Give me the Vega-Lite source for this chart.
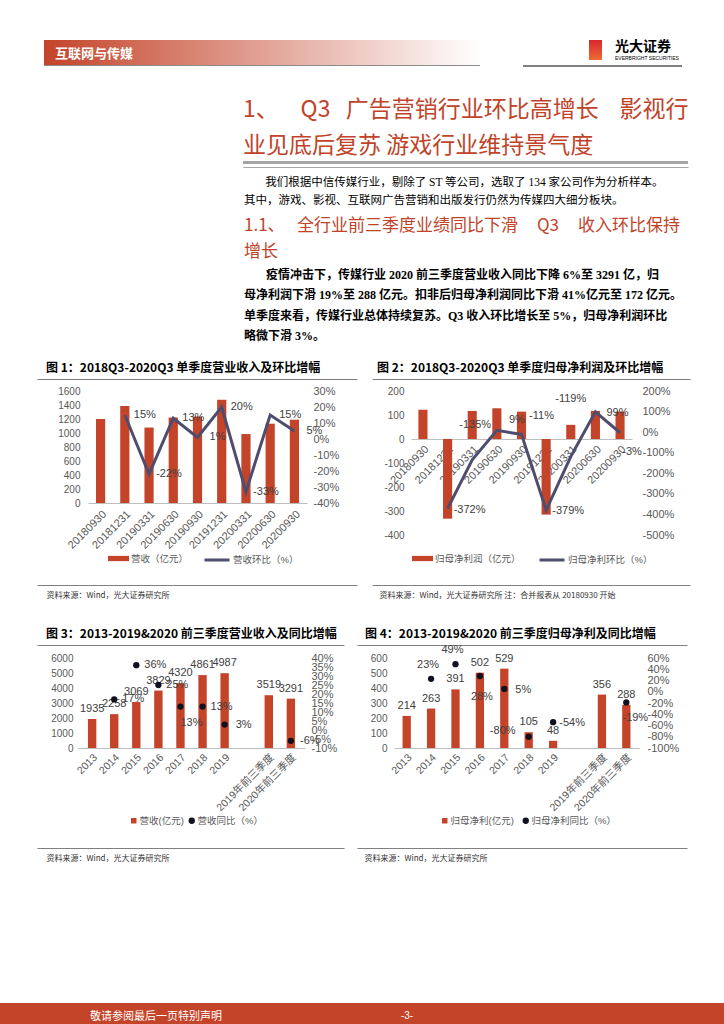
{
  "$schema": "https://vega.github.io/schema/vega-lite/v6.json",
  "background": "white",
  "padding": {"left": 0, "top": 40, "right": 0, "bottom": 0},
  "config": {
    "view": {"stroke": null},
    "font": "Liberation Sans, Noto Sans CJK SC",
    "locale": {"number": {"decimal": ".", "thousands": ",", "grouping": [3], "currency": ["", ""], "minus": "-"}},
    "axis": {"ticks": false, "grid": false, "labelFontSize": 11, "labelColor": "#595959", "labelOverlap": false, "domainColor": "#BFBFBF"},
    "legend": {"labelFontSize": 9.5, "labelColor": "#595959", "padding": 0},
    "text": {"fontSize": 11, "color": "#404040"},
    "title": {"font": "Noto Sans CJK SC", "color": "#000000"},
    "concat": {"spacing": 0}
  },
  "spacing": 0,
  "resolve": {"scale": {"fill": "independent", "stroke": "independent", "color": "independent"}, "legend": {"fill": "independent", "stroke": "independent", "color": "independent"}},
  "vconcat": [
    {
      "spacing": 0, "bounds": "flush",
      "hconcat": [
        {"width": 44, "height": 25, "data": {"values": []}, "mark": "point"},
        {"width": 436, "height": 25, "data": {"values": [{}]},
         "mark": {"type": "rect", "fill": {"gradient": "linear", "x1": 0, "y1": 0, "x2": 1, "y2": 0, "stops": [{"offset": 0, "color": "#C4442A"}, {"offset": 1, "color": "#FFFFFF"}]}},
         "encoding": {},
         "title": {"text": "互联网与传媒", "orient": "bottom", "anchor": "start", "frame": "group", "dx": 11, "offset": -17.5, "fontSize": 13, "fontWeight": "bold", "color": "#FFFFFF"}},
        {"width": 109, "height": 25, "data": {"values": []}, "mark": "point"},
        {"width": 13, "height": 20, "data": {"values": [{}]},
         "mark": {"type": "rect", "fill": {"gradient": "linear", "x1": 0, "y1": 0, "x2": 0, "y2": 1, "stops": [{"offset": 0, "color": "#D8282C"}, {"offset": 1, "color": "#EE6A36"}]}},
         "encoding": {},
         "title": {"text": "光大证券", "subtitle": "EVERBRIGHT SECURITIES", "orient": "bottom", "anchor": "start", "frame": "group", "dx": 26, "offset": -20, "fontSize": 14, "fontWeight": "bold", "color": "#000000", "subtitleFontSize": 5, "subtitlePadding": 2, "subtitleColor": "#000000", "subtitleFont": "Liberation Sans"}}
      ]
    },
    {
      "spacing": 0, "bounds": "flush",
      "hconcat": [
        {"width": 44, "height": 96, "data": {"values": []}, "mark": "point"},
        {"width": 436, "height": 1, "data": {"values": [{}]}, "mark": {"type": "rect", "fill": "#8C8C8C"}, "encoding": {},
         "title": {"text": ["1、\u3000\u00a0\u00a0Q3\u00a0\u00a0\u00a0广告营销行业环比高增长\u00a0\u00a0\u00a0\u00a0影视行", "业见底后复苏\u00a0游戏行业维持景气度"], "orient": "bottom", "anchor": "start", "frame": "group", "dx": 199, "offset": 32.5, "fontSize": 23, "lineHeight": 36, "fontWeight": "normal", "color": "#C0432A"}},
        {"width": 43, "height": 1, "data": {"values": []}, "mark": "point"},
        {"width": 159, "height": 2, "data": {"values": [{}]}, "mark": {"type": "rect", "fill": "#7F7F7F"}, "encoding": {}}
      ]
    },
    {
      "spacing": 0, "bounds": "flush",
      "hconcat": [
        {"width": 243, "height": 5, "data": {"values": []}, "mark": "point"},
        {"width": 445, "height": 3, "data": {"values": [{}]}, "mark": {"type": "rect", "fill": "#A6A6A6"}, "encoding": {}}
      ]
    },
    {
      "spacing": 0, "bounds": "flush",
      "hconcat": [
        {"width": 243, "height": 45, "data": {"values": []}, "mark": "point"},
        {"width": 445, "height": 1, "data": {"values": []}, "mark": "point",
         "view": {"stroke": "#A6A6A6", "strokeWidth": 1, "strokeDash": [445, 447]},
         "title": {"text": ["ㅤㅤ我们根据中信传媒行业，剔除了 ST 等公司，选取了 134 家公司作为分析样本。", "其中，游戏、影视、互联网广告营销和出版发行仍然为传媒四大细分板块。"], "orient": "bottom", "anchor": "start", "frame": "group", "dx": 1, "offset": 9.25, "font": "Liberation Serif, Noto Sans CJK SC", "fontSize": 11.5, "lineHeight": 18, "fontWeight": "normal", "color": "#000000"}}
      ]
    },
    {
      "spacing": 0, "bounds": "flush",
      "hconcat": [
        {"width": 243, "height": 149, "data": {"values": []}, "mark": "point"},
        {"width": 445, "height": 1, "data": {"values": []}, "mark": "point",
         "title": {"text": ["1.1、\u3000\u00a0全行业前三季度业绩同比下滑\u00a0\u00a0\u00a0\u00a0\u00a0Q3\u00a0\u00a0\u00a0\u00a0\u00a0收入环比保持", "增长"], "subtitle": ["ㅤㅤ疫情冲击下，传媒行业 2020 前三季度营业收入同比下降 6%至 3291 亿，归", "母净利润下滑 19%至 288 亿元。扣非后归母净利润同比下滑 41%亿元至 172 亿元。", "单季度来看，传媒行业总体持续复苏。Q3 收入环比增长至 5%，归母净利润环比", "略微下滑 3%。"],
           "orient": "bottom", "anchor": "start", "frame": "group", "dx": 1, "offset": 4.5, "fontSize": 17, "lineHeight": 26, "fontWeight": "normal", "color": "#C0432A",
           "subtitleFont": "Liberation Serif, Noto Sans CJK SC", "subtitleFontSize": 12, "subtitleFontWeight": "bold", "subtitleColor": "#000000", "subtitleLineHeight": 20.3, "subtitlePadding": 9.5}}
      ]
    },
    {
      "spacing": 0, "bounds": "flush",
      "hconcat": [
        {"width": 37, "height": 17, "data": {"values": []}, "mark": "point"},
        {"width": 320, "height": 1, "data": {"values": []}, "mark": "point",
         "title": {"text": "图 1：2018Q3-2020Q3 单季度营业收入及环比增幅", "orient": "bottom", "anchor": "start", "frame": "group", "dx": 9, "offset": 1, "fontSize": 12, "fontWeight": "bold", "color": "#000000"}},
        {"width": 15, "height": 1, "data": {"values": []}, "mark": "point"},
        {"width": 318, "height": 1, "data": {"values": []}, "mark": "point",
         "title": {"text": "图 2：2018Q3-2020Q3 单季度归母净利润及环比增幅", "orient": "bottom", "anchor": "start", "frame": "group", "dx": 5, "offset": 1, "fontSize": 12, "fontWeight": "bold", "color": "#000000"}}
      ]
    },
    {
      "spacing": 0, "bounds": "flush",
      "resolve": {"scale": {"fill": "independent", "stroke": "independent", "color": "independent"}, "legend": {"fill": "independent", "stroke": "independent", "color": "independent"}},
      "hconcat": [
        {"width": 37, "height": 247, "data": {"values": []}, "mark": "point"},
        {
          "width": 320, "height": 206,
          "view": {"stroke": "#808080", "strokeWidth": 1, "strokeDash": [320, 206, 320, 206]},
          "data": {"values": [
            {"q": "20180930", "rev": 1200, "qoq": null},
            {"q": "20181231", "rev": 1385, "qoq": 0.15},
            {"q": "20190331", "rev": 1078, "qoq": -0.22},
            {"q": "20190630", "rev": 1222, "qoq": 0.13},
            {"q": "20190930", "rev": 1235, "qoq": 0.01},
            {"q": "20191231", "rev": 1475, "qoq": 0.20},
            {"q": "20200331", "rev": 985, "qoq": -0.33},
            {"q": "20200630", "rev": 1133, "qoq": 0.15},
            {"q": "20200930", "rev": 1190, "qoq": 0.05}
          ]},
          "encoding": {
            "x": {"field": "q", "type": "ordinal", "sort": null,
              "scale": {"range": [51, 270], "paddingInner": 0.62, "paddingOuter": 0.33},
              "axis": {"orient": "bottom", "offset": -82, "labelAngle": -45, "labelPadding": 5, "title": "资料来源：Wind，光大证券研究所", "titleX": 9, "titleY": 92, "titleAlign": "left", "titleAnchor": "start", "titleBaseline": "middle", "titleAngle": 0, "titleFontSize": 8, "titleFontWeight": "normal", "titleColor": "#333333", "titleFont": "Noto Sans CJK SC"}}
          },
          "layer": [
            {"mark": {"type": "bar"},
             "encoding": {
               "y": {"field": "rev", "type": "quantitative", "scale": {"domain": [0, 1600], "range": [124, 12], "nice": false},
                 "axis": {"orient": "left", "offset": -51, "domain": false, "labelPadding": 8, "labelFontSize": 10, "title": null, "format": "d", "values": [0, 200, 400, 600, 800, 1000, 1200, 1400, 1600]}},
               "fill": {"datum": "营收（亿元）", "scale": {"range": ["#C4442A"]},
                 "legend": {"orient": "none", "legendX": 71, "legendY": 169, "title": null, "symbolType": "M-1,-0.25H1V0.25H-1Z", "symbolSize": 441, "symbolStrokeWidth": 0, "labelOffset": 2}}
             }},
            {"mark": {"type": "line", "strokeWidth": 3},
             "encoding": {
               "y": {"field": "qoq", "type": "quantitative", "scale": {"domain": [-0.4, 0.3], "range": [124, 12], "nice": false, "zero": false},
                 "axis": {"orient": "right", "offset": -50, "domain": false, "labelPadding": 6, "title": null, "format": ".0%", "values": [-0.4, -0.3, -0.2, -0.1, 0, 0.1, 0.2, 0.3]}},
               "stroke": {"datum": "营收环比（%）", "scale": {"range": ["#4E4D6D"]},
                 "legend": {"orient": "none", "legendX": 166, "legendY": 167, "title": null, "symbolType": "stroke", "symbolSize": 625, "symbolStrokeWidth": 3, "labelOffset": 2}}
             }},
            {"transform": [{"filter": "isValid(datum.qoq)"}],
             "mark": {"type": "text", "dx": 20},
             "encoding": {
               "y": {"field": "qoq", "type": "quantitative", "scale": {"domain": [-0.4, 0.3], "range": [124, 12], "nice": false, "zero": false}, "axis": null},
               "text": {"field": "qoq", "type": "quantitative", "format": ".0%"}
             }}
          ],
          "resolve": {"scale": {"y": "independent"}}
        },
        {"width": 15, "height": 1, "data": {"values": []}, "mark": "point"},
        {
          "width": 318, "height": 206,
          "view": {"stroke": "#808080", "strokeWidth": 1, "strokeDash": [318, 206, 318, 206]},
          "data": {"values": [
            {"q": "20180930", "np": 122, "qoq": null},
            {"q": "20181231", "np": -332, "qoq": -3.72},
            {"q": "20190331", "np": 117, "qoq": -1.35},
            {"q": "20190630", "np": 128, "qoq": 0.09},
            {"q": "20190930", "np": 114, "qoq": -0.11},
            {"q": "20191231", "np": -315, "qoq": -3.79},
            {"q": "20200331", "np": 59, "qoq": -1.19},
            {"q": "20200630", "np": 117, "qoq": 0.99},
            {"q": "20200930", "np": 114, "qoq": -0.03}
          ]},
          "encoding": {
            "x": {"field": "q", "type": "ordinal", "sort": null,
              "scale": {"range": [39, 260], "paddingInner": 0.63, "paddingOuter": 0.3},
              "axis": {"orient": "bottom", "offset": -146, "labelAngle": -45, "labelPadding": 4, "title": "资料来源：Wind，光大证券研究所 注：合并报表从 20180930 开始", "titleX": 7, "titleY": 156, "titleAlign": "left", "titleAnchor": "start", "titleBaseline": "middle", "titleAngle": 0, "titleFontSize": 8, "titleFontWeight": "normal", "titleColor": "#333333", "titleFont": "Noto Sans CJK SC"}}
          },
          "layer": [
            {"mark": {"type": "bar"},
             "encoding": {
               "y": {"field": "np", "type": "quantitative", "scale": {"domain": [-400, 200], "range": [156, 12], "nice": false},
                 "axis": {"orient": "left", "offset": -39, "domain": false, "labelPadding": 7, "labelFontSize": 10, "title": null, "format": "d", "values": [-400, -300, -200, -100, 0, 100, 200]}},
               "fill": {"datum": "归母净利润（亿元）", "scale": {"range": ["#C4442A"]},
                 "legend": {"orient": "none", "legendX": 40, "legendY": 169, "title": null, "symbolType": "M-1,-0.25H1V0.25H-1Z", "symbolSize": 441, "symbolStrokeWidth": 0, "labelOffset": 2}}
             }},
            {"mark": {"type": "line", "strokeWidth": 3},
             "encoding": {
               "y": {"field": "qoq", "type": "quantitative", "scale": {"domain": [-5, 2], "range": [156, 12], "nice": false, "zero": false},
                 "axis": {"orient": "right", "offset": -58, "domain": false, "labelPadding": 10, "title": null, "format": ".0%", "values": [-5, -4, -3, -2, -1, 0, 1, 2]}},
               "stroke": {"datum": "归母净利环比（%）", "scale": {"range": ["#4E4D6D"]},
                 "legend": {"orient": "none", "legendX": 166, "legendY": 167, "title": null, "symbolType": "stroke", "symbolSize": 625, "symbolStrokeWidth": 3, "labelOffset": 2}}
             }},
            {"transform": [{"filter": {"field": "q", "oneOf": ["20181231", "20191231", "20200630"]}}],
             "mark": {"type": "text", "dx": 22, "dy": 1},
             "encoding": {"y": {"field": "qoq", "type": "quantitative", "scale": {"domain": [-5, 2], "range": [156, 12], "nice": false, "zero": false}, "axis": null}, "text": {"field": "qoq", "type": "quantitative", "format": ".0%"}}},
            {"transform": [{"filter": {"field": "q", "equal": "20190331"}}],
             "mark": {"type": "text", "dx": 3, "dy": -35},
             "encoding": {"y": {"field": "qoq", "type": "quantitative", "scale": {"domain": [-5, 2], "range": [156, 12], "nice": false, "zero": false}, "axis": null}, "text": {"field": "qoq", "type": "quantitative", "format": ".0%"}}},
            {"transform": [{"filter": {"field": "q", "equal": "20190630"}}],
             "mark": {"type": "text", "dx": 20, "dy": -10},
             "encoding": {"y": {"field": "qoq", "type": "quantitative", "scale": {"domain": [-5, 2], "range": [156, 12], "nice": false, "zero": false}, "axis": null}, "text": {"field": "qoq", "type": "quantitative", "format": ".0%"}}},
            {"transform": [{"filter": {"field": "q", "equal": "20190930"}}],
             "mark": {"type": "text", "dx": 20, "dy": -18},
             "encoding": {"y": {"field": "qoq", "type": "quantitative", "scale": {"domain": [-5, 2], "range": [156, 12], "nice": false, "zero": false}, "axis": null}, "text": {"field": "qoq", "type": "quantitative", "format": ".0%"}}},
            {"transform": [{"filter": {"field": "q", "equal": "20200331"}}],
             "mark": {"type": "text", "dx": 0, "dy": -58},
             "encoding": {"y": {"field": "qoq", "type": "quantitative", "scale": {"domain": [-5, 2], "range": [156, 12], "nice": false, "zero": false}, "axis": null}, "text": {"field": "qoq", "type": "quantitative", "format": ".0%"}}},
            {"transform": [{"filter": {"field": "q", "equal": "20200930"}}],
             "mark": {"type": "text", "dx": 12, "dy": 19},
             "encoding": {"y": {"field": "qoq", "type": "quantitative", "scale": {"domain": [-5, 2], "range": [156, 12], "nice": false, "zero": false}, "axis": null}, "text": {"field": "qoq", "type": "quantitative", "format": ".0%"}}}
          ],
          "resolve": {"scale": {"y": "independent"}}
        }
      ]
    },
    {
      "spacing": 0, "bounds": "flush",
      "hconcat": [
        {"width": 37, "height": 17, "data": {"values": []}, "mark": "point"},
        {"width": 307, "height": 1, "data": {"values": []}, "mark": "point",
         "title": {"text": "图 3：2013-2019&2020 前三季度营业收入及同比增幅", "orient": "bottom", "anchor": "start", "frame": "group", "dx": 9, "offset": 2, "fontSize": 12, "fontWeight": "bold", "color": "#000000"}},
        {"width": 13, "height": 1, "data": {"values": []}, "mark": "point"},
        {"width": 330, "height": 1, "data": {"values": []}, "mark": "point",
         "title": {"text": "图 4：2013-2019&2020 前三季度归母净利及同比增幅", "orient": "bottom", "anchor": "start", "frame": "group", "dx": 8, "offset": 2, "fontSize": 12, "fontWeight": "bold", "color": "#000000"}}
      ]
    },
    {
      "spacing": 0, "bounds": "flush",
      "resolve": {"scale": {"fill": "independent", "stroke": "independent", "color": "independent"}, "legend": {"fill": "independent", "stroke": "independent", "color": "independent"}},
      "hconcat": [
        {"width": 37, "height": 358, "data": {"values": []}, "mark": "point"},
        {
          "width": 307, "height": 203,
          "view": {"stroke": "#808080", "strokeWidth": 1, "strokeDash": [307, 203, 307, 203]},
          "data": {"values": [
            {"yr": "2013", "rev": 1935, "yoy": null},
            {"yr": "2014", "rev": 2258, "yoy": 0.17},
            {"yr": "2015", "rev": 3069, "yoy": 0.36},
            {"yr": "2016", "rev": 3829, "yoy": 0.25},
            {"yr": "2017", "rev": 4320, "yoy": 0.13},
            {"yr": "2018", "rev": 4861, "yoy": 0.13},
            {"yr": "2019", "rev": 4987, "yoy": 0.03},
            {"yr": "2019年前三季度", "rev": 3519, "yoy": null},
            {"yr": "2020年前三季度", "rev": 3291, "yoy": -0.06}
          ]},
          "encoding": {
            "x": {"field": "yr", "type": "ordinal",
              "scale": {"domain": ["2013", "2014", "2015", "2016", "2017", "2018", "2019", " ", "2019年前三季度", "2020年前三季度"], "range": [41, 268], "paddingInner": 0.62, "paddingOuter": 0.45},
              "axis": {"orient": "bottom", "offset": -100, "labelAngle": -45, "labelPadding": 4, "labelFontSize": 10.5, "title": "资料来源：Wind，光大证券研究所", "titleX": 9, "titleY": 110, "titleAlign": "left", "titleAnchor": "start", "titleBaseline": "middle", "titleAngle": 0, "titleFontSize": 8, "titleFontWeight": "normal", "titleColor": "#333333", "titleFont": "Noto Sans CJK SC"}}
          },
          "layer": [
            {"mark": {"type": "bar"},
             "encoding": {
               "y": {"field": "rev", "type": "quantitative", "scale": {"domain": [0, 6000], "range": [103, 13], "nice": false},
                 "axis": {"orient": "left", "offset": -41, "domain": false, "labelPadding": 5, "labelFontSize": 10, "title": null, "format": "d", "values": [0, 1000, 2000, 3000, 4000, 5000, 6000]}},
               "fill": {"datum": "营收(亿元)", "scale": {"range": ["#C4442A"]},
                 "legend": {"orient": "none", "legendX": 92, "legendY": 171, "title": null, "symbolType": "square", "symbolSize": 30, "symbolStrokeWidth": 0, "labelOffset": 1}}
             }},
            {"mark": {"type": "text", "dy": -10},
             "encoding": {
               "y": {"field": "rev", "type": "quantitative", "scale": {"domain": [0, 6000], "range": [103, 13], "nice": false}, "axis": null},
               "text": {"field": "rev", "type": "quantitative", "format": "d"}
             }},
            {"mark": {"type": "point", "filled": true, "size": 40, "opacity": 1},
             "encoding": {
               "y": {"field": "yoy", "type": "quantitative", "scale": {"domain": [-0.1, 0.4], "range": [103, 13], "nice": false, "zero": false},
                 "axis": {"orient": "right", "offset": -39, "domain": false, "labelPadding": 6, "title": null, "format": ".0%", "values": [-0.1, -0.05, 0, 0.05, 0.1, 0.15, 0.2, 0.25, 0.3, 0.35, 0.4]}},
               "color": {"datum": "营收同比（%）", "scale": {"range": ["#10101E"]},
                 "legend": {"orient": "none", "legendX": 150, "legendY": 171, "title": null, "symbolType": "circle", "symbolSize": 40, "labelOffset": 1}}
             }},
            {"transform": [{"filter": "isValid(datum.yoy) && datum.yr != '2017'"}],
             "mark": {"type": "text", "dx": 19},
             "encoding": {"y": {"field": "yoy", "type": "quantitative", "scale": {"domain": [-0.1, 0.4], "range": [103, 13], "nice": false, "zero": false}, "axis": null}, "text": {"field": "yoy", "type": "quantitative", "format": ".0%"}}},
            {"transform": [{"filter": "datum.yr == '2017'"}],
             "mark": {"type": "text", "dx": 11, "dy": 16},
             "encoding": {"y": {"field": "yoy", "type": "quantitative", "scale": {"domain": [-0.1, 0.4], "range": [103, 13], "nice": false, "zero": false}, "axis": null}, "text": {"field": "yoy", "type": "quantitative", "format": ".0%"}}}
          ],
          "resolve": {"scale": {"y": "independent"}}
        },
        {"width": 13, "height": 1, "data": {"values": []}, "mark": "point"},
        {
          "width": 330, "height": 203,
          "view": {"stroke": "#808080", "strokeWidth": 1, "strokeDash": [330, 203, 330, 203]},
          "data": {"values": [
            {"yr": "2013", "np": 214, "yoy": null},
            {"yr": "2014", "np": 263, "yoy": 0.23},
            {"yr": "2015", "np": 391, "yoy": 0.49},
            {"yr": "2016", "np": 502, "yoy": 0.28},
            {"yr": "2017", "np": 529, "yoy": 0.05},
            {"yr": "2018", "np": 105, "yoy": -0.80},
            {"yr": "2019", "np": 48, "yoy": -0.54},
            {"yr": "2019年前三季度", "np": 356, "yoy": null},
            {"yr": "2020年前三季度", "np": 288, "yoy": -0.19}
          ]},
          "encoding": {
            "x": {"field": "yr", "type": "ordinal",
              "scale": {"domain": ["2013", "2014", "2015", "2016", "2017", "2018", "2019", " ", "2019年前三季度", "2020年前三季度"], "range": [37, 282], "paddingInner": 0.66, "paddingOuter": 0.35},
              "axis": {"orient": "bottom", "offset": -100, "labelAngle": -45, "labelPadding": 4, "labelFontSize": 10.5, "title": "资料来源：Wind，光大证券研究所", "titleX": 7, "titleY": 110, "titleAlign": "left", "titleAnchor": "start", "titleBaseline": "middle", "titleAngle": 0, "titleFontSize": 8, "titleFontWeight": "normal", "titleColor": "#333333", "titleFont": "Noto Sans CJK SC"}}
          },
          "layer": [
            {"mark": {"type": "bar"},
             "encoding": {
               "y": {"field": "np", "type": "quantitative", "scale": {"domain": [0, 600], "range": [103, 13], "nice": false},
                 "axis": {"orient": "left", "offset": -37, "domain": false, "labelPadding": 7, "labelFontSize": 10, "title": null, "format": "d", "values": [0, 100, 200, 300, 400, 500, 600]}},
               "fill": {"datum": "归母净利(亿元)", "scale": {"range": ["#C4442A"]},
                 "legend": {"orient": "none", "legendX": 83, "legendY": 171, "title": null, "symbolType": "square", "symbolSize": 30, "symbolStrokeWidth": 0, "labelOffset": 1}}
             }},
            {"mark": {"type": "text", "dy": -10},
             "encoding": {
               "y": {"field": "np", "type": "quantitative", "scale": {"domain": [0, 600], "range": [103, 13], "nice": false}, "axis": null},
               "text": {"field": "np", "type": "quantitative", "format": "d"}
             }},
            {"mark": {"type": "point", "filled": true, "size": 40, "opacity": 1},
             "encoding": {
               "y": {"field": "yoy", "type": "quantitative", "scale": {"domain": [-1, 0.6], "range": [103, 13], "nice": false, "zero": false},
                 "axis": {"orient": "right", "offset": -48, "domain": false, "labelPadding": 8, "title": null, "format": ".0%", "values": [-1, -0.8, -0.6, -0.4, -0.2, 0, 0.2, 0.4, 0.6]}},
               "color": {"datum": "归母净利同比（%）", "scale": {"range": ["#10101E"]},
                 "legend": {"orient": "none", "legendX": 164, "legendY": 171, "title": null, "symbolType": "circle", "symbolSize": 40, "labelOffset": 1}}
             }},
            {"transform": [{"filter": {"field": "yr", "oneOf": ["2014", "2015"]}}],
             "mark": {"type": "text", "dx": -3, "dy": -14},
             "encoding": {"y": {"field": "yoy", "type": "quantitative", "scale": {"domain": [-1, 0.6], "range": [103, 13], "nice": false, "zero": false}, "axis": null}, "text": {"field": "yoy", "type": "quantitative", "format": ".0%"}}},
            {"transform": [{"filter": {"field": "yr", "equal": "2016"}}],
             "mark": {"type": "text", "dx": 2, "dy": 21},
             "encoding": {"y": {"field": "yoy", "type": "quantitative", "scale": {"domain": [-1, 0.6], "range": [103, 13], "nice": false, "zero": false}, "axis": null}, "text": {"field": "yoy", "type": "quantitative", "format": ".0%"}}},
            {"transform": [{"filter": {"field": "yr", "oneOf": ["2017", "2019"]}}],
             "mark": {"type": "text", "dx": 19, "dy": 1},
             "encoding": {"y": {"field": "yoy", "type": "quantitative", "scale": {"domain": [-1, 0.6], "range": [103, 13], "nice": false, "zero": false}, "axis": null}, "text": {"field": "yoy", "type": "quantitative", "format": ".0%"}}},
            {"transform": [{"filter": {"field": "yr", "equal": "2018"}}],
             "mark": {"type": "text", "dx": -26, "dy": -6},
             "encoding": {"y": {"field": "yoy", "type": "quantitative", "scale": {"domain": [-1, 0.6], "range": [103, 13], "nice": false, "zero": false}, "axis": null}, "text": {"field": "yoy", "type": "quantitative", "format": ".0%"}}},
            {"transform": [{"filter": {"field": "yr", "equal": "2020年前三季度"}}],
             "mark": {"type": "text", "dx": 9, "dy": 16},
             "encoding": {"y": {"field": "yoy", "type": "quantitative", "scale": {"domain": [-1, 0.6], "range": [103, 13], "nice": false, "zero": false}, "axis": null}, "text": {"field": "yoy", "type": "quantitative", "format": ".0%"}}}
          ],
          "resolve": {"scale": {"y": "independent"}}
        }
      ]
    },
    {
      "width": 724, "height": 25,
      "data": {"values": [{"page": "-3-"}]},
      "title": {"text": "敬请参阅最后一页特别声明", "orient": "bottom", "anchor": "start", "frame": "group", "dx": 90, "offset": -17.5, "fontSize": 11, "fontWeight": "normal", "color": "#FFFFFF"},
      "layer": [
        {"mark": {"type": "rect", "fill": "#C4442A"}, "encoding": {}},
        {"mark": {"type": "text", "dx": 45, "fontSize": 10, "color": "#FFFFFF"}, "encoding": {"text": {"field": "page", "type": "nominal"}}}
      ]
    }
  ]
}
